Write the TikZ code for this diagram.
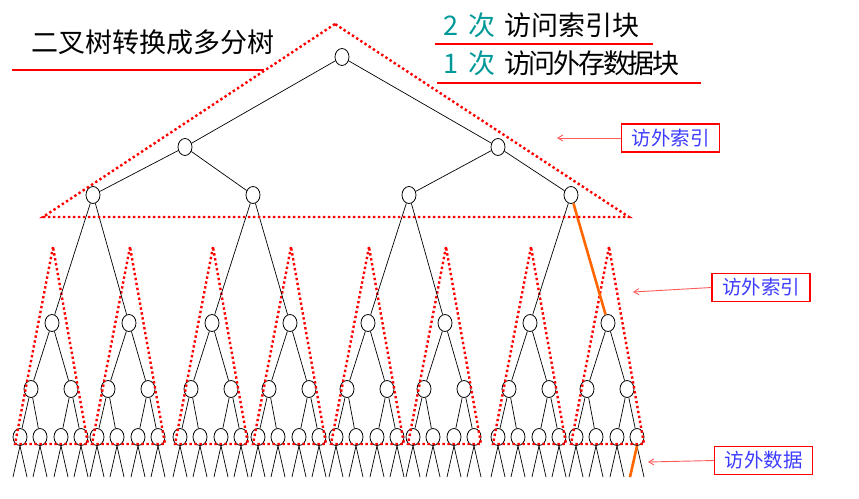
\documentclass[tikz,border=0pt]{standalone}
\usepackage{fontspec}
\newfontfamily\cjk{Noto Sans CJK SC}
\usetikzlibrary{shapes.geometric,arrows.meta}
\definecolor{tealc}{RGB}{0,153,153}
\definecolor{lblue}{RGB}{60,60,255}
\definecolor{orng}{RGB}{255,102,0}
\definecolor{pinkred}{RGB}{255,90,90}
\newcommand{\tk}{\kern-2.3pt}
\begin{document}
\begin{tikzpicture}[x=1pt,y=-1pt,
  tn/.style={draw,ellipse,minimum width=14pt,minimum height=17pt,inner sep=0pt,line width=0.8pt},
  ed/.style={line width=0.7pt,black},
  oed/.style={line width=2.6pt,orng},
  redtri/.style={red,line width=2.4pt,dash pattern=on 2.4pt off 2.6pt},
  uline/.style={red,line width=2pt},
  lbl/.style={draw=red,line width=1.3pt,fill=white,minimum width=98pt,minimum height=28pt,inner sep=0pt,
              text=lblue,font=\cjk\fontsize{19.5pt}{21pt}\selectfont},
  arr/.style={pinkred,line width=0.9pt,-{Straight Barb[length=5pt,width=6pt]}},
  ttl/.style={anchor=west,inner sep=0pt,font=\cjk\fontsize{27pt}{30pt}\selectfont}
]
\useasboundingbox (0,0) rectangle (859,498);

% upper tree
\node[tn] (r) at (342,57) {};
\node[tn] (n11) at (185,147) {};
\node[tn] (n12) at (498,147) {};
\node[tn] (n21) at (93,195) {};
\node[tn] (n22) at (253,195) {};
\node[tn] (n23) at (409,195) {};
\node[tn] (n24) at (571,195) {};

% subtrees
\foreach \i/\x in {1/52,2/129,3/212,4/290,5/368,6/445,7/530,8/608}{
  \node[tn] (s\i) at (\x,323) {};
  \node[tn] (a\i) at (\x-21,389) {};
  \node[tn] (b\i) at (\x+19,389) {};
  \node[tn] (p\i) at (\x-32,437) {};
  \node[tn] (q\i) at (\x-12,437) {};
  \node[tn] (u\i) at (\x+9,437) {};
  \node[tn] (v\i) at (\x+29,437) {};
  \draw[ed] (s\i) -- (a\i);
  \draw[ed] (s\i) -- (b\i);
  \draw[ed] (a\i) -- (p\i);
  \draw[ed] (a\i) -- (q\i);
  \draw[ed] (b\i) -- (u\i);
  \draw[ed] (b\i) -- (v\i);
  \foreach \lf/\dx in {p/-32,q/-12,u/9,v/29}{
    \coordinate (\lf\i L) at (\x+\dx-7,477);
    \coordinate (\lf\i R) at (\x+\dx+7,477);
    \draw[ed] (\lf\i.south) -- (\lf\i L);
    \draw[ed] (\lf\i.south) -- (\lf\i R);
  }
  % red dotted triangle
  \coordinate (t\i a) at (\x+1,247);
  \coordinate (t\i b) at (\x-37,444);
  \coordinate (t\i c) at (\x+36,444);
  \draw[redtri] (t\i a) -- (t\i b) -- (t\i c) -- cycle;
}

\draw[ed] (r) -- (n11);
\draw[ed] (r) -- (n12);
\draw[ed] (n11) -- (n21);
\draw[ed] (n11) -- (n22);
\draw[ed] (n12) -- (n23);
\draw[ed] (n12) -- (n24);
\draw[ed] (n21) -- (s1);
\draw[ed] (n21) -- (s2);
\draw[ed] (n22) -- (s3);
\draw[ed] (n22) -- (s4);
\draw[ed] (n23) -- (s5);
\draw[ed] (n23) -- (s6);
\draw[ed] (n24) -- (s7);
\draw[oed] (n24) -- (s8);
\draw[oed] (v8.south) -- (v8L);

% big dotted triangle
\coordinate (T1) at (335,24);
\coordinate (T2) at (43,217);
\coordinate (T3) at (629,217);
\draw[redtri] (T1) -- (T2) -- (T3) -- cycle;

% titles
\node[ttl] (title) at (31,42) {二叉树转换成多分树};
\draw[uline] (12,70) -- (264,70);
\node[ttl] (c1) at (443,25) {\textcolor{tealc}{2\hspace{10pt}次}\hspace{9pt}访问索引块};
\draw[uline] (435,44) -- (653,44);
\node[ttl] (c2) at (443,63) {\textcolor{tealc}{1\hspace{10pt}次}\hspace{9pt}访\tk 问\tk 外\tk 存\tk 数\tk 据\tk 块};
\draw[uline] (437,83) -- (701,83);

% labels
\node[lbl] (L1) at (670.5,138) {访外索引\hspace{8pt}};
\node[lbl] (L2) at (761,287.5) {访外索引\hspace{8pt}};
\node[lbl] (L3) at (763.5,460.5) {访外数据\hspace{8pt}};
\coordinate (A1) at (557,138);
\coordinate (A2) at (633,292);
\coordinate (A3) at (648,462);
\draw[arr] (L1.west) -- (A1);
\draw[arr] (L2.west) -- (A2);
\draw[arr] (L3.west) -- (A3);
\end{tikzpicture}
\end{document}
